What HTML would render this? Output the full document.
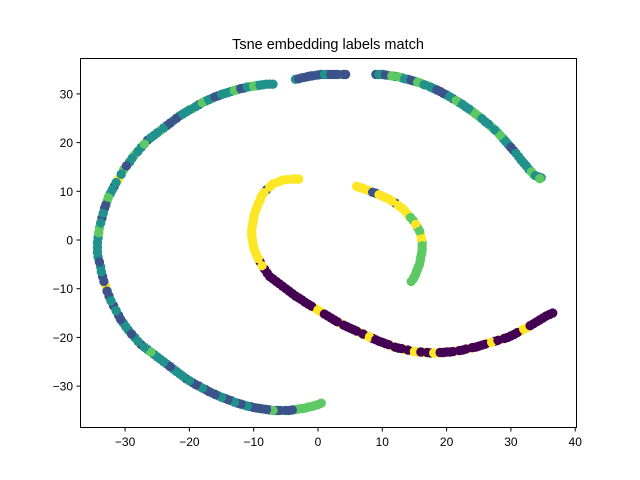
<!DOCTYPE html>
<html><head><meta charset="utf-8"><style>
body{margin:0;background:#fff;font-family:"Liberation Sans","DejaVu Sans",sans-serif}
svg{display:block}
</style></head><body>
<svg id="chart" width="640" height="480">
<rect x="0" y="0" width="640" height="480" fill="#fff"/>
<text x="328" y="49" text-anchor="middle" font-size="14.5">Tsne embedding labels match</text>
<g id="pts"></g>
<rect x="80.5" y="58.5" width="496" height="369" fill="none" stroke="#000" stroke-width="1"/>
<g id="axes" font-size="12"></g>
</svg>
<script>
const xTicks=[-30,-20,-10,0,10,20,30,40];
const yTicks=[-30,-20,-10,0,10,20,30];
const colors=["#440154","#3b528b","#21918c","#5ec962","#fde725"];
const outerX=[0.5,-0.5,-1.5,-2.5,-3.5,-4.5,-5.5,-6.5,-7.5,-8.5,-9.5,-10.5,-11.5,-12.5,-13.5,-14.5,-15.5,-16.5,-17.5,-18.5,-19.5,-20.5,-21.5,-22.5,-23.5,-24.5,-25.5,-26.5,-27.5,-28.5,-29.5,-30.3,-31,-31.8,-32.5,-33,-33.5,-33.8,-34.2,-34.3,-34.2,-34,-33.6,-33.2,-32.8,-32.3,-31.7,-31,-30.2,-29.3,-28.5,-27.5,-26.5,-25.5,-24.5,-23.5,-22.5,-21.5,-20.5,-19.5,-18.5,-17.5,-16.5,-15.5,-14.5,-13.5,-12.5,-11.5,-10.5,-9.5,-8.5,-7.5,-7,
-3.5,-2.5,-1.5,-0.5,0.5,1.5,2.5,3.5,4.3,
9,10,11,12,13,14,15,16,17,18,19,20,21,22,23,24,25,26,27,28,28.8,29.6,30.4,31.2,32,32.8,33.5,34.2,34.7];
const outerY=[-33.5,-34,-34.3,-34.6,-34.8,-35,-35,-35,-34.9,-34.7,-34.5,-34.2,-33.9,-33.5,-33,-32.5,-32,-31.4,-30.7,-30,-29.3,-28.5,-27.5,-26.5,-25.5,-24.5,-23.5,-22.5,-21.5,-20,-18.5,-17,-15.5,-13.5,-11.5,-9.5,-7.5,-5.5,-3.5,-1.5,0.5,2.5,4.5,6.5,8,9.5,11,12.5,14.5,16,17.5,19,20.5,21.5,22.5,23.5,24.5,25.5,26.3,27,27.8,28.5,29.1,29.6,30.1,30.5,30.9,31.2,31.5,31.7,31.9,32,32,
33,33.3,33.6,33.8,34,34,34,34,34,
34,34,33.8,33.6,33.3,33,32.6,32.2,31.7,31.1,30.5,29.8,29,28.2,27.3,26.4,25.4,24.3,23.2,22,20.8,19.6,18.4,17.1,15.8,14.5,13.5,13,12.8];
const outerC=[3,3,3,3,3,1,3,1,1,2,1,1,2,1,1,1,2,2,1,1,1,1,2,2,2,2,2,2,1,2,2,2,1,1,1,4,1,2,2,2,2,3,1,1,3,2,1,4,3,2,3,2,1,2,3,1,2,2,2,3,1,2,2,1,2,2,2,1,3,2,2,2,2,
2,1,1,2,1,1,1,3,1,
1,1,3,2,2,1,2,3,3,2,1,2,1,2,2,3,3,2,3,3,2,2,1,2,2,2,3,2,2];
const outer2X=[0,-1,-2,-3,-4,-5,-6,-7,-8,-9,-10,-11,-12,-13,-14,-15,-16,-17,-18,-19,-20,-21,-22,-23,-24,-25,-26,-27,-28,-29,-29.9,-30.7,-31.4,-32.2,-32.8,-33.3,-33.7,-34,-34.3,-34.3,-34.1,-33.8,-33.4,-33,-32.6,-32,-31.4,-30.6,-29.8,-28.9,-28,-27,-26,-25,-24,-23,-22,-21,-20,-19,-18,-17,-16,-15,-14,-13,-12,-11,-10,-9,-8,
-3,-2,-1,0,1,2,3,4,
9.5,10.5,11.5,12.5,13.5,14.5,15.5,16.5,17.5,18.5,19.5,20.5,21.5,22.5,23.5,24.5,25.5,26.5,27.5,28.4,29.2,30,30.8,31.6,32.4,33.2,33.8,34.5];
const outer2Y=[-33.8,-34.2,-34.5,-34.7,-34.9,-35,-35,-35,-34.8,-34.6,-34.4,-34.1,-33.7,-33.3,-32.8,-32.3,-31.7,-31.1,-30.4,-29.7,-28.9,-28,-27,-26,-25,-24,-23,-22,-20.8,-19.3,-17.8,-16.3,-14.5,-12.5,-10.5,-8.5,-6.5,-4.5,-2.5,-0.5,1.5,3.5,5.5,7.2,8.8,10.3,11.8,13.5,15.2,16.8,18.2,19.7,21,22,23,24,25,25.9,26.7,27.4,28.2,28.8,29.4,29.9,30.3,30.7,31.1,31.4,31.6,31.8,32,
33.1,33.4,33.7,33.9,34,34,34,34,
34,33.9,33.7,33.5,33.1,32.8,32.4,31.9,31.4,30.8,30.1,29.4,28.6,27.8,26.9,25.9,24.9,23.8,22.6,21.4,20.2,19,17.8,16.4,15.2,14,13.2,12.6];
const outer2C=[3,3,3,3,1,1,1,3,1,1,1,2,1,2,1,2,1,1,2,1,2,2,2,1,2,2,3,2,2,1,2,1,2,2,1,1,2,1,2,2,3,2,2,1,3,2,2,2,1,2,2,3,2,2,2,1,1,2,2,2,3,2,1,2,2,3,1,2,3,2,2,
1,1,1,1,2,1,1,1,
2,1,3,3,2,1,3,2,2,1,1,2,3,2,2,3,2,2,2,3,2,1,2,2,2,3,2,3];
const innerX=[-3,-4,-5.5,-7,-8,-8.8,-9.3,-9.7,-10,-10.2,-10.3,-10.2,-10,-9.6,-9,-8.3,-7.5,-6.5,-5.5,-4.5,-3.5,-2.5,-1.5,-0.5,0.5,1.5,2.5,3.5,4.5,5.5,6.5,7.5,8.5,9.5,10.5,11.5,12.5,13.5,14.5,15.5,16.5,17.5,18.5,19.5,20.5,21.5,22.5,23.5,24.5,25.5,26.5,27.5,28.5,29.5,30.5,31.5,32.5,33.5,34.5,35.5,36.5];
const innerY=[12.5,12.5,12.3,11.5,10.3,9,7.5,6,4.5,3,1.5,0,-1.5,-3,-4.5,-6,-7.5,-8.5,-9.5,-10.5,-11.5,-12.3,-13.2,-14,-14.8,-15.6,-16.4,-17.1,-17.8,-18.4,-19,-19.6,-20.2,-20.8,-21.3,-21.8,-22.2,-22.5,-22.8,-23,-23.1,-23.2,-23.2,-23.1,-23,-22.8,-22.6,-22.3,-22,-21.6,-21.2,-20.8,-20.4,-20,-19.4,-18.7,-18,-17.2,-16.4,-15.6,-15];
const innerC=[4,4,4,4,1,4,4,4,4,4,4,4,4,4,0,0,0,0,0,0,0,0,0,4,4,0,0,4,0,0,4,4,0,0,0,4,0,4,4,4,4,0,4,0,0,4,0,4,0,0,4,0,4,0,0,4,4,0,0,0,0];
const inner2X=[-3.5,-4.8,-6.2,-7.5,-8.4,-9,-9.5,-9.9,-10.1,-10.3,-10.3,-10.1,-9.8,-9.3,-8.7,-7.9,-7,-6,-5,-4,-3,-2,-1,0,1,2,3,4,5,6,7,8,9,10,11,12,13,14,15,16,17,18,19,20,21,22,23,24,25,26,27,28,29,30,31,32,33,34,35,36];
const inner2Y=[12.5,12.4,11.9,10.9,9.7,8.2,6.7,5.2,3.7,2.2,0.7,-0.8,-2.3,-3.8,-5.3,-6.8,-8,-9,-10,-11,-11.9,-12.8,-13.6,-14.4,-15.2,-16,-16.8,-17.5,-18.1,-18.7,-19.3,-19.9,-20.5,-21,-21.5,-22,-22.3,-22.6,-22.9,-23,-23.1,-23.2,-23.1,-23,-22.9,-22.7,-22.4,-22.1,-21.8,-21.4,-21,-20.6,-20.2,-19.7,-19,-18.3,-17.6,-16.8,-16,-15.3];
const inner2C=[4,4,4,4,4,4,4,4,4,4,4,4,4,4,4,0,0,0,0,0,0,0,0,4,0,0,0,0,0,0,0,4,0,0,0,0,0,0,4,0,0,4,0,0,0,0,0,0,0,0,4,0,0,0,0,4,0,0,0,0];
const arcX=[6,7,8,9,10,11,12,13,14,14.8,15.5,16,16.2,16.2,16,15.8,15.5,15.2,14.8,14.5,6.5,7.5,8.5,9.5,10.5,11.5,12.5,13.5,14.4,15.2,15.8,16.1,16.2,16.1,15.9,15.6,15.3,15];
const arcY=[11,10.6,10.1,9.6,9,8.4,7.6,6.6,5.2,4,2.5,1,-0.5,-2,-3.5,-5,-6,-7,-8,-8.5,10.8,10.3,9.8,9.3,8.7,8,7.1,6,4.6,3.2,1.8,0.2,-1.2,-2.8,-4.2,-5.5,-6.5,-7.5];
const arcC=[4,4,4,1,4,4,1,4,4,3,3,4,3,3,3,3,3,3,3,3,4,4,1,4,4,4,4,4,3,4,3,4,3,3,3,3,3,3];

const sx=v=>318+v*6.43, sy=v=>240-v*4.87;
const NS="http://www.w3.org/2000/svg";
const g=document.getElementById('pts');
function draw(X,Y,C){for(let i=0;i<X.length;i++){const c=document.createElementNS(NS,'circle');
c.setAttribute('cx',sx(X[i]));c.setAttribute('cy',sy(Y[i]));c.setAttribute('r',4.7);c.setAttribute('fill',colors[C[i]]);


g.appendChild(c);}}
draw(outerX,outerY,outerC);draw(outer2X,outer2Y,outer2C);draw(innerX,innerY,innerC);draw(inner2X,inner2Y,inner2C);draw(arcX,arcY,arcC);
const ax=document.getElementById('axes');
xTicks.forEach(t=>{const x=sx(t);
const l=document.createElementNS(NS,'line');l.setAttribute('x1',x);l.setAttribute('x2',x);l.setAttribute('y1',427.5);l.setAttribute('y2',431.5);l.setAttribute('stroke','#000');


ax.appendChild(l);
const tx=document.createElementNS(NS,'text');tx.setAttribute('x',x);tx.setAttribute('y',446);tx.setAttribute('text-anchor','middle');tx.textContent=t<0?'\u2212'+(-t):t;


ax.appendChild(tx);});
yTicks.forEach(t=>{const y=sy(t);
const l=document.createElementNS(NS,'line');l.setAttribute('x1',76.5);l.setAttribute('x2',80.5);l.setAttribute('y1',y);l.setAttribute('y2',y);l.setAttribute('stroke','#000');


ax.appendChild(l);
const tx=document.createElementNS(NS,'text');tx.setAttribute('x',73);tx.setAttribute('y',y+4.5);tx.setAttribute('text-anchor','end');tx.textContent=t<0?'\u2212'+(-t):t;


ax.appendChild(tx);});
</script>
</body></html>
